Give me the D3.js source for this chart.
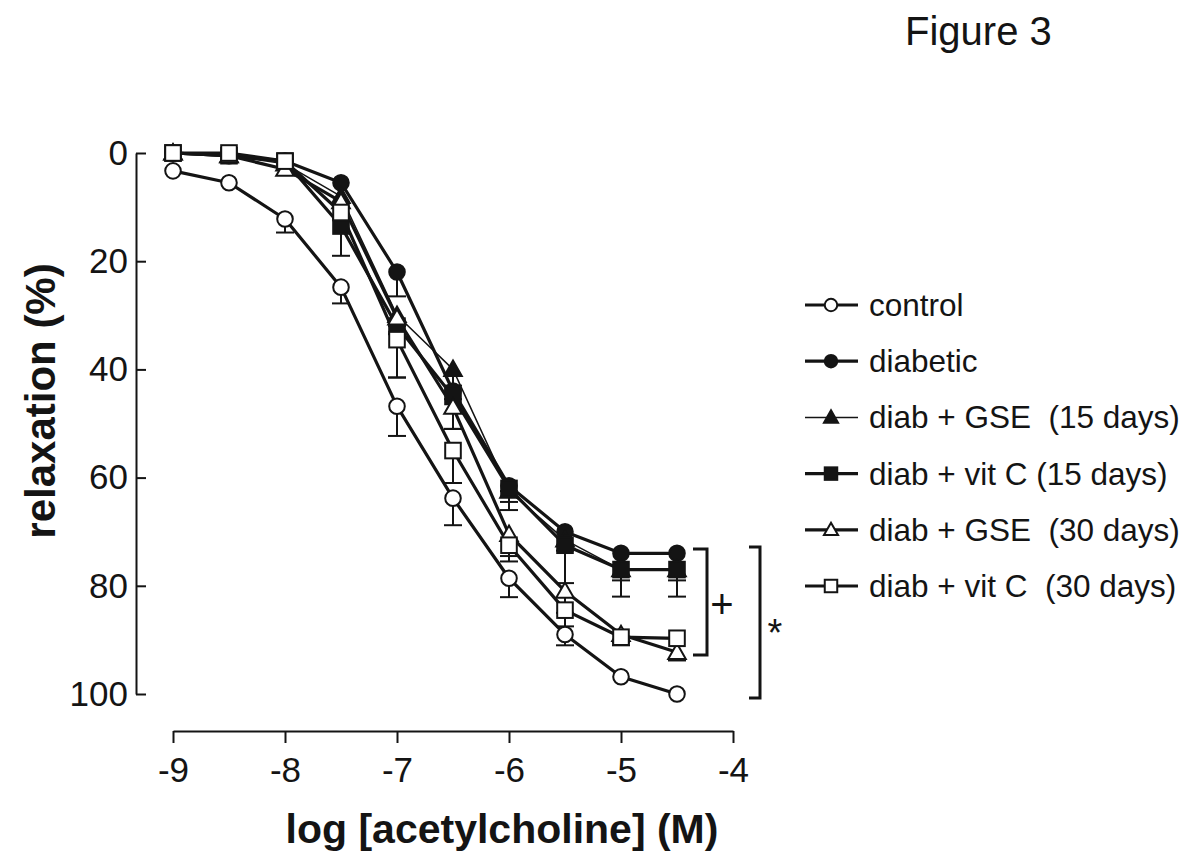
<!DOCTYPE html>
<html>
<head>
<meta charset="utf-8">
<script src="https://cdn.jsdelivr.net/npm/d3@7"></script>
<style>
  html, body { margin: 0; padding: 0; background: #fff; }
  svg { display: block; font-family: "Liberation Sans", Arial, sans-serif; }
  svg text { white-space: pre; }
</style>
</head>
<body>
<svg id="chart" width="1191" height="856"></svg>
<script>
// ---- data ----
const logConc = [-9, -8.5, -8, -7.5, -7, -6.5, -6, -5.5, -5, -4.5];
const xTicks = [-9, -8, -7, -6, -5, -4];
const yTicks = [0, 20, 40, 60, 80, 100];

const seriesNames = ["control", "diabetic", "diab + GSE  (15 days)", "diab + vit C (15 days)", "diab + GSE  (30 days)", "diab + vit C  (30 days)"];
const seriesSymbols = ["circle", "circle", "triangle", "square", "triangle", "square"];
const seriesFilled = [false, true, true, true, false, false];
const seriesThin = [false, false, true, false, false, false];

const controlVals  = [3.3, 5.5, 12.2, 24.8, 46.8, 63.8, 78.6, 89.0, 96.8, 100];
const diabeticVals = [0, 0.5, 1.5, 5.5, 22.0, 44.0, 61.5, 70.0, 74.0, 74.0];
const gse15Vals    = [0, 0.5, 2.0, 8.0, 30.0, 40.0, 62.5, 71.5, 77.0, 77.0];
const vitC15Vals   = [0, 0.5, 1.5, 13.5, 32.0, 45.0, 62.0, 72.5, 77.0, 77.0];
const gse30Vals    = [0, 0.5, 3.0, 9.0, 30.5, 47.0, 70.5, 81.0, 89.0, 92.3];
const vitC30Vals   = [0, 0, 1.5, 11.0, 34.5, 55.0, 72.5, 84.5, 89.5, 89.7];

const controlSem  = [0, 0, 2.5, 3.0, 5.5, 5.0, 3.5, 2.0, 0, 0];
const diabeticSem = [0, 0, 0, 0, 4.5, 1.5, 1.0, 0, 0, 0];
const gse15Sem    = [0, 0, 0, 0, 2.0, 3.0, 2.0, 2.0, 2.0, 2.0];
const vitC15Sem   = [0, 0, 0, 5.5, 9.5, 6.0, 4.0, 7.0, 5.0, 5.0];
const gse30Sem    = [0, 0, 0, 0, 3.0, 4.0, 4.0, 4.0, 1.5, 1.5];
const vitC30Sem   = [0, 0, 0, 0, 7.0, 6.0, 3.0, 3.0, 1.5, 0];

const allVals = [controlVals, diabeticVals, gse15Vals, vitC15Vals, gse30Vals, vitC30Vals];
const allSem = [controlSem, diabeticSem, gse15Sem, vitC15Sem, gse30Sem, vitC30Sem];

// ---- drawing ----
const svg = d3.select("#chart");
const ink = "#141414";
const fontFam = "Liberation Sans, Arial, sans-serif";

const x = d3.scaleLinear().domain([-9, -4]).range([173, 733]);
const y = d3.scaleLinear().domain([0, 100]).range([153, 694]);

const series = seriesNames.map((name, i) => ({
  name, symbol: seriesSymbols[i], filled: seriesFilled[i], thin: seriesThin[i],
  points: logConc.map((c, j) => ({ c, v: allVals[i][j], e: allSem[i][j] }))
}));

// Title
svg.append("text").attr("x", 905).attr("y", 45)
  .attr("font-size", 40).attr("fill", ink).text("Figure 3");

// Y axis (inward ticks)
const yAxisG = svg.append("g").attr("transform", "translate(136,0)")
  .call(d3.axisLeft(y).tickValues(yTicks).tickSize(-10).tickSizeOuter(0).tickPadding(8).tickFormat(d => String(d)));
yAxisG.selectAll("path, line").attr("stroke", ink).attr("stroke-width", 2);
yAxisG.selectAll("text").attr("font-size", 35).attr("fill", ink).attr("font-family", fontFam);

// X axis
const xAxisG = svg.append("g").attr("transform", "translate(0,731)")
  .call(d3.axisBottom(x).tickValues(xTicks).tickSize(12).tickSizeOuter(0).tickPadding(14).tickFormat(d => String(d)));
xAxisG.selectAll("path, line").attr("stroke", ink).attr("stroke-width", 2);
xAxisG.selectAll("text").attr("font-size", 35).attr("fill", ink).attr("font-family", fontFam);

// Axis titles
svg.append("text").attr("x", 502).attr("y", 843).attr("text-anchor", "middle")
  .attr("font-size", 41).attr("font-weight", "bold").attr("fill", ink)
  .text("log [acetylcholine] (M)");
svg.append("text").attr("transform", "translate(55,401) rotate(-90)")
  .attr("text-anchor", "middle").attr("font-size", 42).attr("font-weight", "bold").attr("fill", ink)
  .text("relaxation (%)");

// Lines
const line = d3.line().x(d => x(d.c)).y(d => y(d.v));
svg.append("g").selectAll("path").data(series).join("path")
  .attr("d", d => line(d.points)).attr("fill", "none").attr("stroke", ink)
  .attr("stroke-width", d => d.thin ? 1.5 : 3.2).attr("stroke-linejoin", "round");

// Error bars (one-sided, downward)
const eb = svg.append("g").attr("stroke", ink).attr("stroke-width", 2);
series.forEach(s => {
  s.points.filter(p => p.e > 0).forEach(p => {
    eb.append("line").attr("x1", x(p.c)).attr("x2", x(p.c)).attr("y1", y(p.v)).attr("y2", y(p.v + p.e));
    eb.append("line").attr("x1", x(p.c) - 9).attr("x2", x(p.c) + 9).attr("y1", y(p.v + p.e)).attr("y2", y(p.v + p.e));
  });
});

// Markers
function drawMarker(g, sym, filled, cx, cy, scale) {
  const sw = 2;
  const fill = filled ? ink : "#fff";
  if (sym === "circle") {
    g.append("circle").attr("cx", cx).attr("cy", cy).attr("r", 7.8 * scale)
      .attr("fill", fill).attr("stroke", ink).attr("stroke-width", sw);
  } else if (sym === "square") {
    const h = 7.8 * scale;
    g.append("rect").attr("x", cx - h).attr("y", cy - h).attr("width", 2 * h).attr("height", 2 * h)
      .attr("fill", fill).attr("stroke", ink).attr("stroke-width", sw);
  } else {
    const h = 8.8 * scale;
    g.append("path").attr("d", `M${cx},${cy - h}L${cx + h},${cy + h * 0.75}L${cx - h},${cy + h * 0.75}Z`)
      .attr("fill", fill).attr("stroke", ink).attr("stroke-width", sw).attr("stroke-linejoin", "miter");
  }
}
const mk = svg.append("g");
series.forEach(s => {
  s.points.forEach(p => drawMarker(mk, s.symbol, s.filled, x(p.c), y(p.v), 1));
});

// Legend
const legY0 = 305, legStep = 56.2;
const leg = svg.append("g");
series.forEach((s, i) => {
  const ly = legY0 + i * legStep;
  leg.append("line").attr("x1", 805).attr("x2", 858).attr("y1", ly).attr("y2", ly)
    .attr("stroke", ink).attr("stroke-width", s.thin ? 1.5 : 3.2);
  drawMarker(leg, s.symbol, s.filled, 831, ly, 0.8);
  leg.append("text").attr("x", 869).attr("y", ly + 11).attr("font-size", 31.5)
    .attr("xml:space", "preserve").attr("fill", ink).text(s.name);
});

// Significance brackets
const br = svg.append("g").attr("fill", "none").attr("stroke", ink).attr("stroke-width", 3);
br.append("path").attr("d", "M693,549H707V655H693");
br.append("path").attr("d", "M749,547H760V698H749");
svg.append("text").attr("x", 722).attr("y", 618).attr("text-anchor", "middle")
  .attr("font-size", 40).attr("fill", ink).text("+");
svg.append("text").attr("x", 775).attr("y", 646).attr("text-anchor", "middle")
  .attr("font-size", 38).attr("fill", ink).text("*");
</script>
</body>
</html>
